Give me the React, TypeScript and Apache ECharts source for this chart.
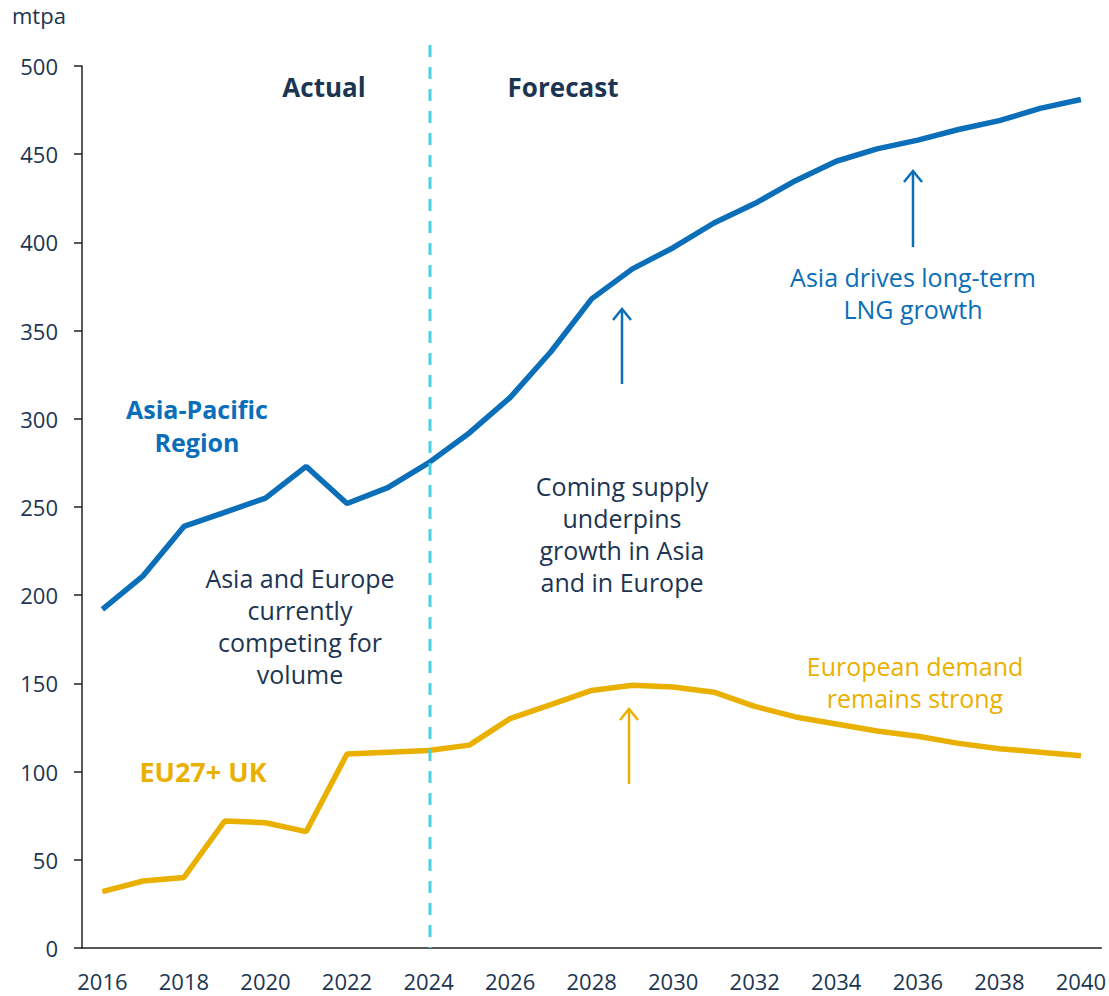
import React, { useEffect, useRef } from "react";
import * as echarts from "echarts";

const years = [
  "2016","2017","2018","2019","2020","2021","2022","2023","2024","2025","2026","2027","2028",
  "2029","2030","2031","2032","2033","2034","2035","2036","2037","2038","2039","2040",
];
const asiaPacific = [192, 211, 239, 247, 255, 273, 252, 261, 275, 292, 312, 338, 368, 385, 397, 411, 422, 435, 446, 453, 458, 464, 469, 476, 481];
const eu27uk = [32, 38, 40, 72, 71, 66, 110, 111, 112, 115, 130, 138, 146, 149, 148, 145, 137, 131, 127, 123, 120, 116, 113, 111, 109];
const yTicks = [0, 50, 100, 150, 200, 250, 300, 350, 400, 450, 500];

const BLUE = "#0A6EB9";
const AMBER = "#EAB000";
const NAVY = "#1C3552";
const CYAN = "#4BD2E0";
const FONT = "'Open Sans', 'Noto Sans', sans-serif";

function arrow(x: number, y1: number, y2: number, color: string) {
  return [
    { type: "line", shape: { x1: x, y1: y1, x2: x, y2: y2 }, style: { stroke: color, lineWidth: 2.5 } },
    {
      type: "polyline",
      shape: { points: [[x - 9, y2 + 11], [x, y2], [x + 9, y2 + 11]] },
      style: { stroke: color, lineWidth: 2.5, fill: null },
    },
  ];
}

// one text element per line, centred at x, first line centred at y
function txt(x: number, y: number, text: string, color: string, size: number, weight: string, lh: number) {
  return text.split("\n").map((line, i) => ({
    type: "text",
    x,
    y: y + i * lh,
    style: {
      text: line,
      fill: color,
      fontFamily: FONT,
      fontSize: size,
      fontWeight: weight,
      align: "center",
      verticalAlign: "middle",
    },
  }));
}

export default function App() {
  const ref = useRef<HTMLDivElement>(null);
  useEffect(() => {
    if (!ref.current) return;
    const chart = echarts.init(ref.current, undefined, { renderer: "svg" });
    chart.setOption({
      animation: false,
      textStyle: { fontFamily: FONT },
      grid: { left: 82, right: 6, top: 66, bottom: 48 },
      xAxis: {
        type: "category",
        data: years,
        boundaryGap: true,
        axisLine: { lineStyle: { color: "#222", width: 1.5 } },
        axisTick: { show: false },
        axisLabel: { interval: 1, color: NAVY, fontSize: 22, margin: 22, fontFamily: FONT },
      },
      yAxis: {
        type: "value",
        min: yTicks[0],
        max: yTicks[yTicks.length - 1],
        interval: 50,
        splitLine: { show: false },
        axisLine: { show: true, lineStyle: { color: "#222", width: 1.5 } },
        axisTick: { show: true, length: 8, lineStyle: { color: "#222", width: 1.5 } },
        axisLabel: { color: NAVY, fontSize: 22, margin: 24, fontFamily: FONT },
      },
      series: [
        {
          name: "Asia-Pacific Region",
          type: "line",
          data: asiaPacific,
          symbol: "none",
          lineStyle: { color: BLUE, width: 5.5 },
          z: 3,
        },
        {
          name: "EU27+ UK",
          type: "line",
          data: eu27uk,
          symbol: "none",
          lineStyle: { color: AMBER, width: 5.5 },
          z: 3,
        },
      ],
      graphic: [
        {
          type: "line",
          shape: { x1: 430, y1: 45, x2: 430, y2: 948 },
          style: { stroke: CYAN, lineWidth: 3, lineDash: [12, 10] },
          z: 5,
        },
        { type: "text", left: 12, top: 4, style: { text: "mtpa", fill: NAVY, fontSize: 22, fontFamily: FONT } },
        ...txt(324, 87, "Actual", NAVY, 26, "bold", 30),
        ...txt(563, 87, "Forecast", NAVY, 26, "bold", 30),
        ...txt(197, 409, "Asia-Pacific\nRegion", BLUE, 25, "bold", 32.5),
        ...txt(300, 578, "Asia and Europe\ncurrently\ncompeting for\nvolume", NAVY, 25, "normal", 32),
        ...txt(622, 486, "Coming supply\nunderpins\ngrowth in Asia\nand in Europe", NAVY, 25, "normal", 32),
        ...txt(913, 277, "Asia drives long-term\nLNG growth", BLUE, 25, "normal", 32),
        ...txt(915, 666, "European demand\nremains strong", AMBER, 25, "normal", 32),
        ...txt(203, 771, "EU27+ UK", AMBER, 27, "bold", 30),
        ...arrow(622, 384, 309, BLUE),
        ...arrow(913, 247, 171, BLUE),
        ...arrow(629, 784, 709, AMBER),
      ],
    });
    return () => chart.dispose();
  }, []);
  return (
    <div
      ref={ref}
      style={{ position: "absolute", left: 0, top: 0, width: 1109, height: 996 }}
    />
  );
}
